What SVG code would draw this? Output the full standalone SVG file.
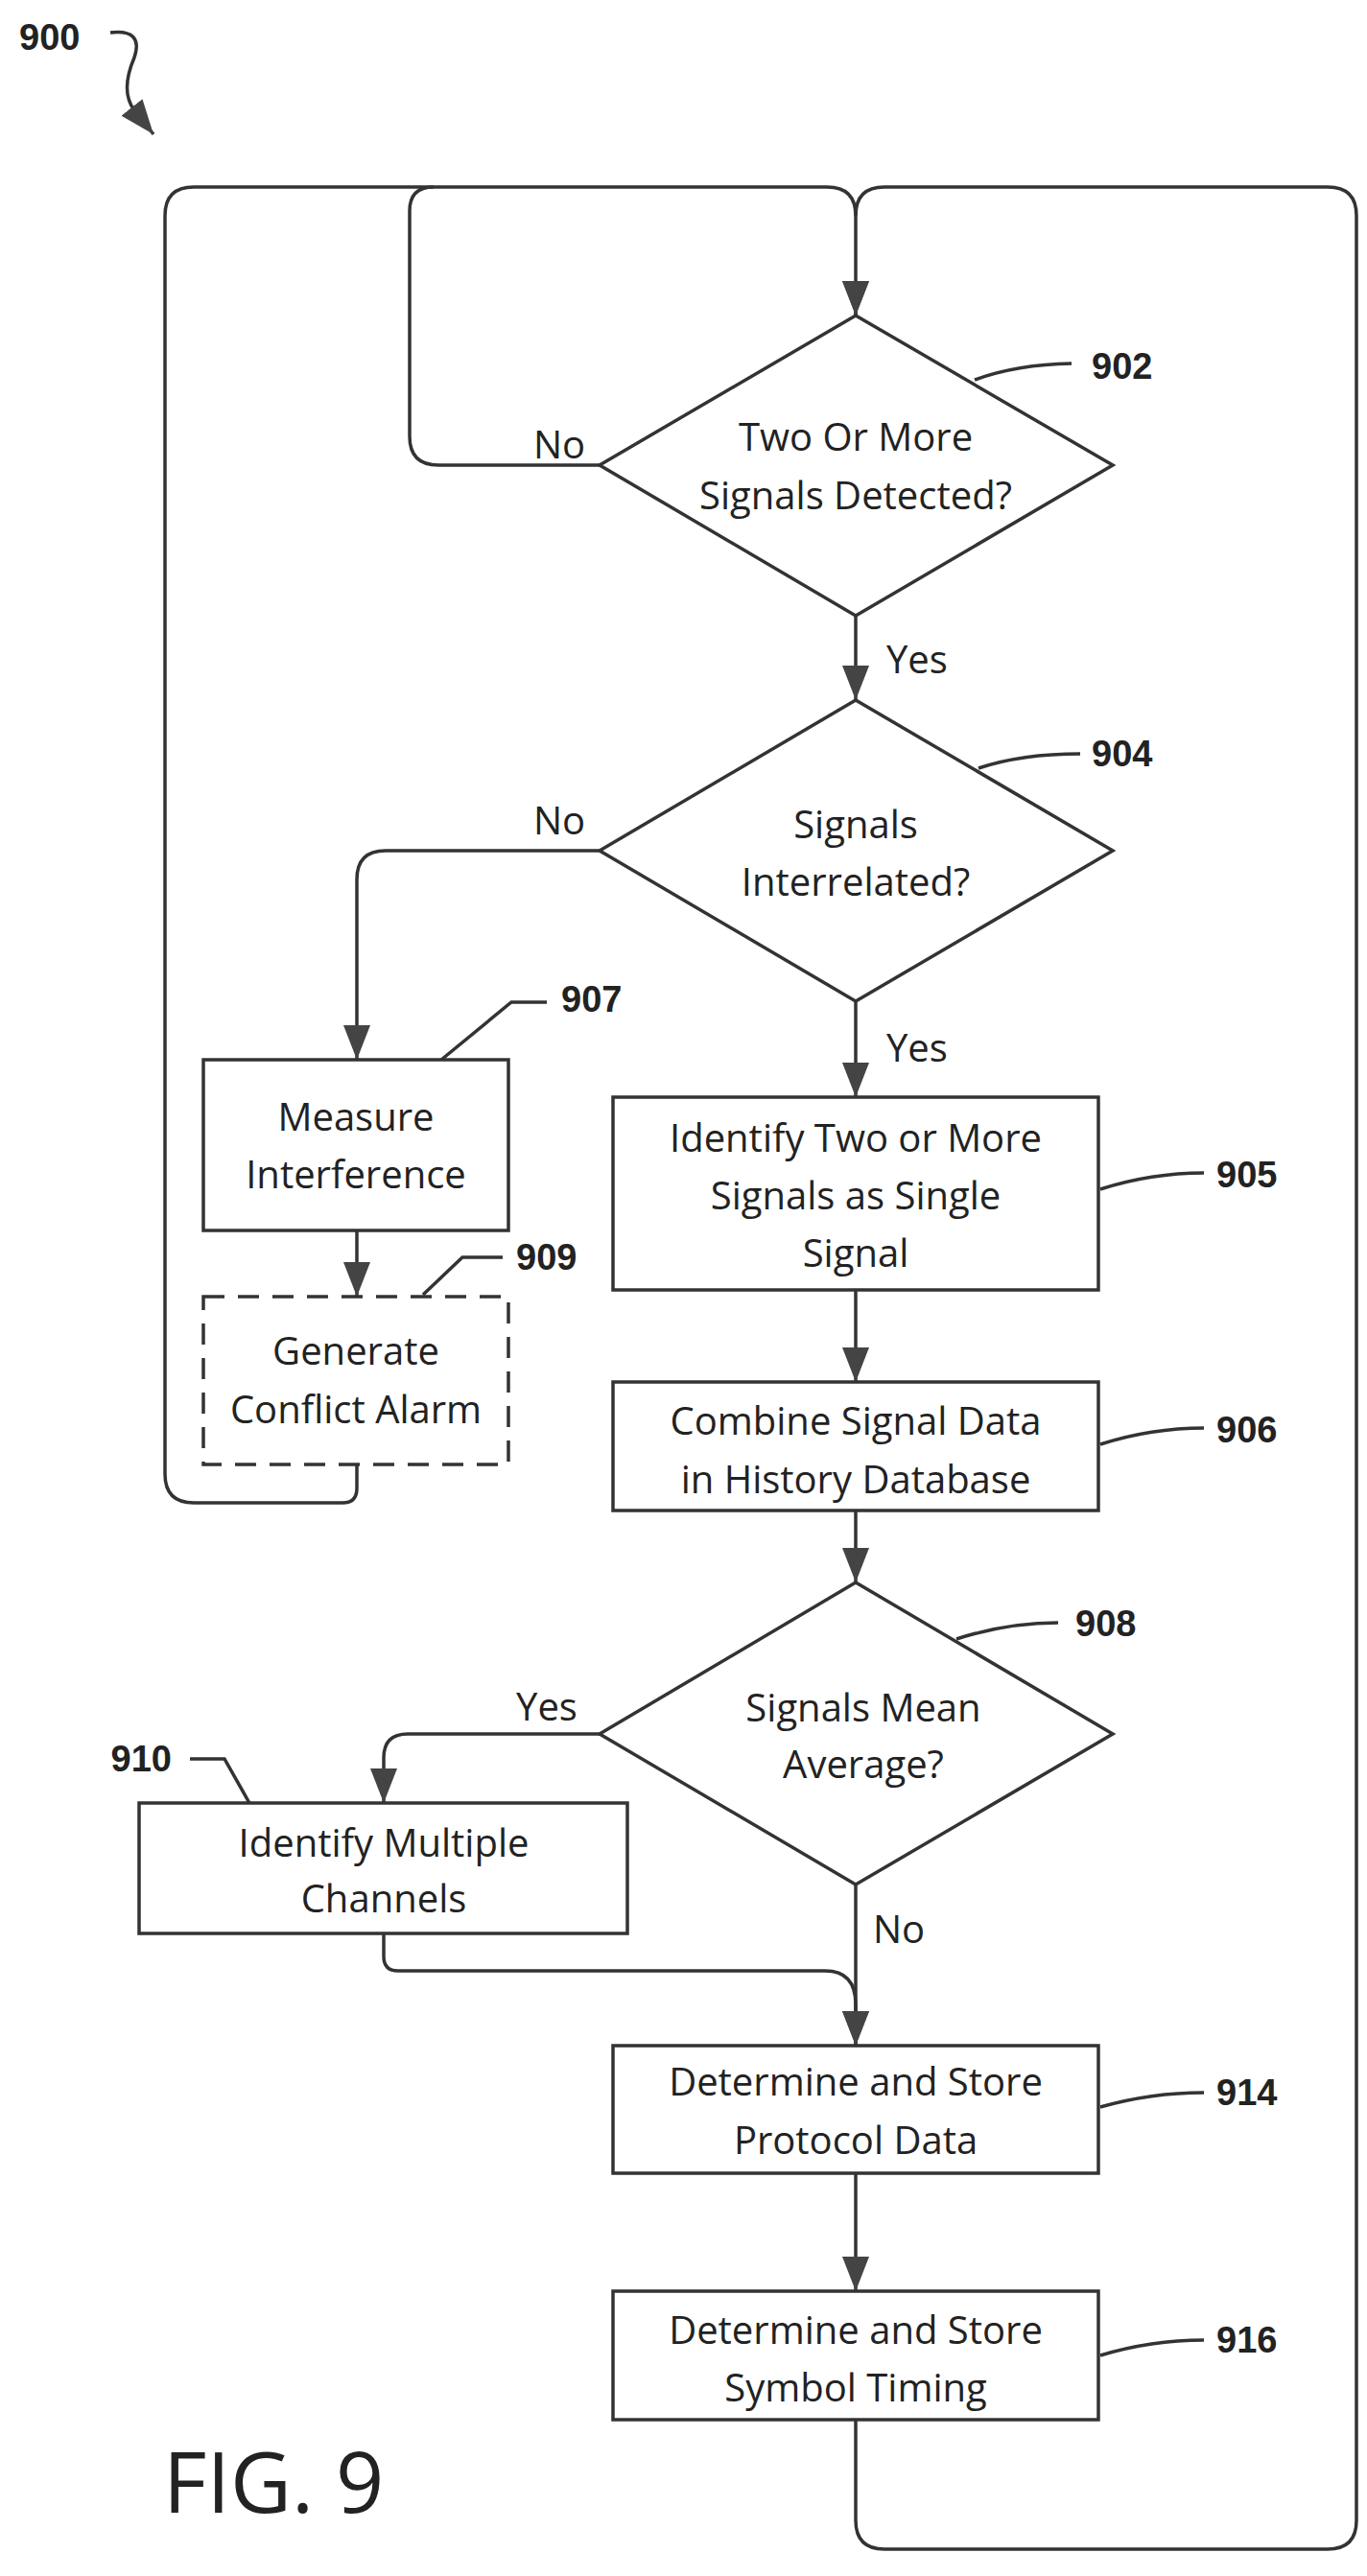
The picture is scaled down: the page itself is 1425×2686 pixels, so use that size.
<svg xmlns="http://www.w3.org/2000/svg" width="1425" height="2686" viewBox="0 0 1425 2686">
<style>
.l{fill:none;stroke:#333;stroke-width:3.5}
.b{fill:#fff;stroke:#333;stroke-width:3.5}
.t{font-family:"Open Sans","Liberation Sans",sans-serif;font-size:40px;fill:#222;text-anchor:middle}
.n{font-family:"Liberation Sans",sans-serif;font-size:38px;font-weight:bold;fill:#222}
</style>
<defs>
<marker id="d" markerUnits="userSpaceOnUse" markerWidth="36" markerHeight="28" refX="36" refY="14" orient="auto" viewBox="0 0 36 28">
<path d="M0,0 L36,14 L0,28 Z" fill="#444"/>
</marker>
</defs>
<g id="connectors">
<path class="l" d="M892,295 V329" marker-end="url(#d)"/>
<path class="l" d="M172,1527 V225 Q172,195 202,195 H862 Q892,195 892,225 V329" marker-end="url(#d)"/>
<path class="l" d="M625,485 H457 Q427,485 427,455 V220 Q427,195 452,195"/>
<path class="l" d="M892,2523 V2628 Q892,2658 922,2658 H1384 Q1414,2658 1414,2628 V225 Q1414,195 1384,195 H922 Q892,195 892,225"/>
<path class="l" d="M892,642 V730" marker-end="url(#d)"/>
<path class="l" d="M625,887 H402 Q372,887 372,917 V1105" marker-end="url(#d)"/>
<path class="l" d="M892,1044 V1144" marker-end="url(#d)"/>
<path class="l" d="M372,1283 V1352" marker-end="url(#d)"/>
<path class="l" d="M372,1527 V1552 Q372,1567 357,1567 H202 Q172,1567 172,1537 V1527"/>
<path class="l" d="M892,1345 V1441" marker-end="url(#d)"/>
<path class="l" d="M892,1575 V1650" marker-end="url(#d)"/>
<path class="l" d="M625,1808 H425 Q400,1808 400,1833 V1880" marker-end="url(#d)"/>
<path class="l" d="M892,1965 V2133" marker-end="url(#d)"/>
<path class="l" d="M400,2016 V2040 Q400,2055 415,2055 H860 Q892,2055 892,2090 V2133" marker-end="url(#d)"/>
<path class="l" d="M892,2266 V2389" marker-end="url(#d)"/>
<path class="l" d="M115,34 Q150,30 140,60 Q125,95 140,115 L160,140" marker-end="url(#d)"/>
</g>
<g id="n900"><text class="n" x="20" y="52">900</text></g>
<g id="n902">
<polygon class="b" points="892,329 1160,485 892,642 625,485"/>
<text class="t" x="892" y="470">Two Or More</text>
<text class="t" x="892" y="531">Signals Detected?</text>
<path class="l" d="M1016,396 Q1060,380 1117,379"/>
<text class="n" x="1138" y="395">902</text>
<text class="t" x="583" y="478">No</text>
</g>
<text class="t" x="924" y="702" style="text-anchor:start">Yes</text>
<g id="n904">
<polygon class="b" points="892,730 1160,887 892,1044 625,887"/>
<text class="t" x="892" y="874">Signals</text>
<text class="t" x="892" y="934">Interrelated?</text>
<path class="l" d="M1020,801 Q1065,786 1126,786"/>
<text class="n" x="1138" y="799">904</text>
<text class="t" x="583" y="870">No</text>
</g>
<text class="t" x="924" y="1107" style="text-anchor:start">Yes</text>
<g id="n907">
<rect class="b" x="212" y="1105" width="318" height="178"/>
<text class="t" x="371" y="1179">Measure</text>
<text class="t" x="371" y="1239">Interference</text>
<path class="l" d="M460,1105 L533,1045 H570"/>
<text class="n" x="585" y="1055">907</text>
</g>
<g id="n909">
<rect class="b" x="212" y="1352" width="318" height="175" stroke-dasharray="22,14"/>
<text class="t" x="371" y="1423">Generate</text>
<text class="t" x="371" y="1484">Conflict Alarm</text>
<path class="l" d="M441,1350 L482,1311 H524"/>
<text class="n" x="538" y="1324">909</text>
</g>
<g id="n905">
<rect class="b" x="639" y="1144" width="506" height="201"/>
<text class="t" x="892" y="1201">Identify Two or More</text>
<text class="t" x="892" y="1261">Signals as Single</text>
<text class="t" x="892" y="1321">Signal</text>
<path class="l" d="M1147,1240 Q1200,1223 1255,1223"/>
<text class="n" x="1268" y="1238">905</text>
</g>
<g id="n906">
<rect class="b" x="639" y="1441" width="506" height="134"/>
<text class="t" x="892" y="1496">Combine Signal Data</text>
<text class="t" x="892" y="1557">in History Database</text>
<path class="l" d="M1147,1506 Q1200,1489 1255,1489"/>
<text class="n" x="1268" y="1504">906</text>
</g>
<g id="n908">
<polygon class="b" points="892,1650 1160,1808 892,1965 625,1808"/>
<text class="t" x="900" y="1795">Signals Mean</text>
<text class="t" x="900" y="1854">Average?</text>
<path class="l" d="M997,1709 Q1050,1692 1103,1692"/>
<text class="n" x="1121" y="1706">908</text>
<text class="t" x="570" y="1794">Yes</text>
<text class="t" x="910" y="2026" style="text-anchor:start">No</text>
</g>
<g id="n910">
<rect class="b" x="145" y="1880" width="509" height="136"/>
<text class="t" x="400" y="1936">Identify Multiple</text>
<text class="t" x="400" y="1994">Channels</text>
<path class="l" d="M198,1834 H234 L260,1880"/>
<text class="n" x="179" y="1847" style="text-anchor:end">910</text>
</g>
<g id="n914">
<rect class="b" x="639" y="2133" width="506" height="133"/>
<text class="t" x="892" y="2185">Determine and Store</text>
<text class="t" x="892" y="2246">Protocol Data</text>
<path class="l" d="M1147,2197 Q1200,2182 1255,2182"/>
<text class="n" x="1268" y="2195">914</text>
</g>
<g id="n916">
<rect class="b" x="639" y="2389" width="506" height="134"/>
<text class="t" x="892" y="2444">Determine and Store</text>
<text class="t" x="892" y="2504">Symbol Timing</text>
<path class="l" d="M1147,2456 Q1200,2440 1255,2440"/>
<text class="n" x="1268" y="2453">916</text>
</g>
<text x="170" y="2620" style="font-family:'Open Sans','Liberation Sans',sans-serif;font-size:88px;fill:#222">FIG. 9</text>
</svg>
